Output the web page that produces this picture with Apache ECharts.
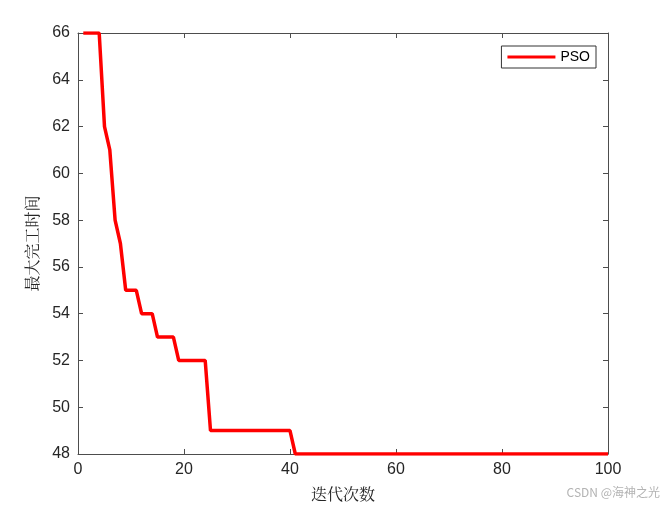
<!DOCTYPE html>
<html>
<head>
<meta charset="utf-8">
<script src="https://cdn.jsdelivr.net/npm/echarts@6/dist/echarts.min.js"></script>
<style>html,body{margin:0;padding:0;background:#fff}#c{width:666px;height:507px}</style>
</head>
<body>
<div id="c"></div>
<script>
const iterations = Array.from({length: 100}, (_, i) => i + 1);
const psoValues = [
  66,66,66,66,62,61,58,57,55,55,
  55,54,54,54,53,53,53,53,52,52,
  52,52,52,52,49,49,49,49,49,49,
  49,49,49,49,49,49,49,49,49,49,
  48,48,48,48,48,48,48,48,48,48,
  48,48,48,48,48,48,48,48,48,48,
  48,48,48,48,48,48,48,48,48,48,
  48,48,48,48,48,48,48,48,48,48,
  48,48,48,48,48,48,48,48,48,48,
  48,48,48,48,48,48,48,48,48,48
];
const seriesName = 'PSO';
const xLabel = '迭代次数';
const yLabel = '最大完工时间';
const watermark = 'CSDN @海神之光';

const axisColor = '#4d4d4d';
const textColor = '#262626';
const baseAxis = {
  axisLine: {show: true, onZero: false, lineStyle: {color: axisColor, width: 1}},
  axisTick: {show: true, inside: true, length: 5, lineStyle: {color: axisColor}},
  splitLine: {show: false}
};
const chart = echarts.init(document.getElementById('c'), null, {renderer: 'canvas'});
chart.setOption({
  animation: false,
  backgroundColor: '#fff',
  grid: {left: 78, top: 33, right: 58, bottom: 52, containLabel: false},
  legend: {
    data: [seriesName], right: 70, top: 46, orient: 'vertical',
    backgroundColor: '#fff', borderColor: '#333', borderWidth: 1,
    padding: [4, 6, 4, 6], itemWidth: 48, itemHeight: 14, itemGap: 4,
    icon: 'path://M0,5.5L48,5.5L48,8.5L0,8.5Z',
    textStyle: {fontFamily: 'Liberation Sans, Arial', fontSize: 14, color: '#000'}
  },
  xAxis: [
    Object.assign({type: 'value', min: 0, max: 100, interval: 20, position: 'bottom',
      name: xLabel, nameLocation: 'middle', nameGap: 32,
      nameTextStyle: {fontFamily: 'Noto Serif CJK SC, Noto Sans CJK SC', fontSize: 16, color: textColor},
      axisLabel: {fontFamily: 'Liberation Sans, Arial', fontSize: 16, color: textColor, margin: 8}}, baseAxis),
    Object.assign({type: 'value', min: 0, max: 100, interval: 20, position: 'top',
      axisLabel: {show: false}}, baseAxis)
  ],
  yAxis: [
    Object.assign({type: 'value', min: 48, max: 66, interval: 2, position: 'left',
      name: yLabel, nameLocation: 'middle', nameGap: 38, nameRotate: 90,
      nameTextStyle: {fontFamily: 'Noto Serif CJK SC, Noto Sans CJK SC', fontSize: 16, color: textColor},
      axisLabel: {fontFamily: 'Liberation Sans, Arial', fontSize: 16, color: textColor, margin: 8}}, baseAxis),
    Object.assign({type: 'value', min: 48, max: 66, interval: 2, position: 'right',
      axisLabel: {show: false}}, baseAxis)
  ],
  series: [{
    name: seriesName, type: 'line', xAxisIndex: 0, yAxisIndex: 0,
    data: iterations.map((x, i) => [x, psoValues[i]]),
    showSymbol: false, symbol: 'none',
    lineStyle: {color: '#ff0000', width: 3.5}, itemStyle: {color: '#ff0000'}
  }],
  graphic: [{
    type: 'text', right: 6, top: 486,
    style: {text: watermark, fontFamily: 'Noto Sans CJK SC', fontSize: 12, fill: '#b3b3b3'}
  }]
});
</script>
</body>
</html>
